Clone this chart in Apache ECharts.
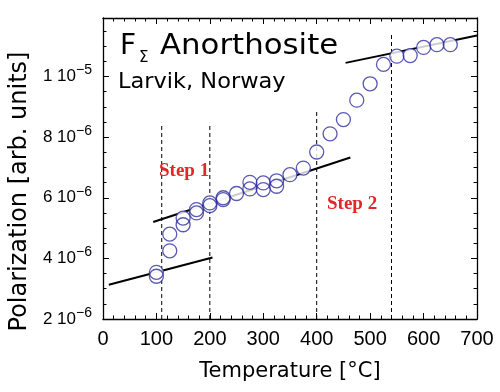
<!DOCTYPE html>
<html><head><meta charset="utf-8">
<script src="https://cdn.jsdelivr.net/npm/echarts@6/dist/echarts.min.js"></script>
<style>html,body{margin:0;padding:0;background:#fff}#c{width:500px;height:392px}</style>
</head><body><div id="c"></div>
<script>
// Temperature (°C) of each measured point
const temperature = [100,100,125,125,150,150,175,175,200,200,225,225,250,275,275,300,300,325,325,350,375,400,425,450,475,500,525,550,575,600,625,650];
// Polarization in units of 1e-6 (arb. units)
const polarization = [3.54,3.41,4.25,4.80,5.11,5.33,5.50,5.61,5.74,5.83,5.94,6.00,6.14,6.51,6.29,6.49,6.27,6.56,6.38,6.76,6.98,7.51,8.11,8.58,9.22,9.76,10.40,10.67,10.69,10.96,11.05,11.05];

// Straight fit lines (endpoints, temperature / polarization 1e-6)
const fitA_T = [11, 205],  fitA_P = [3.13, 4.03];
const fitB_T = [94, 463],  fitB_P = [5.20, 7.33];
const fitC_T = [454, 700], fitC_P = [10.45, 11.35];

// Dashed step markers
const stepT   = [110, 200, 400, 540];
const stepTop = [8.47, 8.47, 8.85, 11.40];
const stepBottom = 2;

// Axis ticks
const xMin = 0, xMax = 700, xStep = 100;
const yMin = 2, yMax = 11.93, yStep = 2;
const yTickLabels = {2:['2 10','\u22126'],4:['4 10','\u22126'],6:['6 10','\u22126'],8:['8 10','\u22126'],10:['1 10','\u22125']};

const titleMain = 'Anorthosite', titleF = 'F', titleSub = '\u03A3', subtitle = 'Larvik, Norway';
const stepLabels = ['Step 1', 'Step 2'];

const pts = temperature.map((t, i) => [t, polarization[i]]);
const pair = (T, P) => T.map((t, i) => [t, P[i]]);

const black = '#000';
const sans = 'DejaVu Sans';
const tickFont = 'Liberation Sans';

const series = [];
[[fitA_T, fitA_P], [fitB_T, fitB_P], [fitC_T, fitC_P]].forEach(([T, P]) => {
  series.push({type:'line', data: pair(T, P), symbol:'none', z:2, silent:true,
    lineStyle:{color:black, width:2}});
});
stepT.forEach((t, i) => {
  series.push({type:'line', data: [[t, stepBottom], [t, stepTop[i]]], symbol:'none', z:2, silent:true,
    lineStyle:{color:black, width:1, type:[4,3]}});
});
series.push({type:'scatter', data: pts, symbol:'circle', symbolSize:14, z:3, silent:true,
  itemStyle:{color:'#ffffff', borderWidth:0}});
series.push({type:'scatter', data: pts, symbol:'circle', symbolSize:14, z:4, silent:true,
  itemStyle:{color:'rgba(0,0,0,0)', borderColor:'#3030a0', borderWidth:1.3}});

const axisCommon = {
  axisLine:{show:true, onZero:false, lineStyle:{color:black, width:1.3}},
  axisTick:{show:true, inside:true, length:6, lineStyle:{color:black, width:1}},
  splitLine:{show:false}
};

const chart = echarts.init(document.getElementById('c'), null, {renderer:'canvas'});
chart.setOption({
  animation:false,
  backgroundColor:'#fff',
  grid:{left:102, right:23, top:18, bottom:73},
  xAxis:[
    Object.assign({type:'value', min:xMin, max:xMax, interval:xStep, position:'bottom',
      axisLabel:{show:true, margin:10, fontSize:20, fontFamily:tickFont, color:black},
      name:'Temperature [\u00B0C]', nameLocation:'middle', nameGap:42,
      nameTextStyle:{fontSize:21, fontFamily:sans, color:black}}, axisCommon,
      {minorTick:{show:true, splitNumber:5, length:3.5, lineStyle:{color:black, width:1}}}),
    Object.assign({type:'value', min:xMin, max:xMax, interval:xStep, position:'top',
      axisLabel:{show:false}}, axisCommon,
      {minorTick:{show:true, splitNumber:5, length:3.5, lineStyle:{color:black, width:1}}})
  ],
  yAxis:[
    Object.assign({type:'value', min:yMin, max:yMax, interval:yStep, position:'left',
      axisLabel:{show:true, margin:11, showMaxLabel:false,
        formatter: v => { const l = yTickLabels[Math.round(v*1000)/1000]; return l ? '{b|' + l[0] + '}{s|' + l[1] + '}' : ''; },
        rich:{
          b:{fontSize:17, fontFamily:tickFont, color:black, lineHeight:26, verticalAlign:'middle'},
          s:{fontSize:14, fontFamily:tickFont, color:black, lineHeight:12, verticalAlign:'top'}
        }},
      name:'Polarization [arb. units]', nameLocation:'middle', nameGap:67,
      nameTextStyle:{fontSize:24, fontFamily:sans, color:black, padding:[0,46,0,0]}}, axisCommon,
      {minorTick:{show:true, splitNumber:4, length:3.5, lineStyle:{color:black, width:1}}}),
    Object.assign({type:'value', min:yMin, max:yMax, interval:yStep, position:'right',
      axisLabel:{show:false}}, axisCommon,
      {minorTick:{show:true, splitNumber:4, length:3.5, lineStyle:{color:black, width:1}}})
  ],
  series: series,
  graphic:[
    {type:'text', x:120, y:47, z:10, style:{text:titleF, fontSize:28, fontFamily:sans, fill:black, verticalAlign:'middle'}},
    {type:'text', x:139, y:58, z:10, style:{text:titleSub, fontSize:15, fontFamily:sans, fill:black, verticalAlign:'middle'}},
    {type:'text', x:160, y:47, z:10, scaleX:1.1, style:{text:titleMain, fontSize:28, fontFamily:sans, fill:black, verticalAlign:'middle'}},
    {type:'text', x:118, y:83, z:10, scaleX:1.07, style:{text:subtitle, fontSize:21, fontFamily:sans, fill:black, verticalAlign:'middle'}},
    {type:'text', x:159, y:171, z:10, style:{text:stepLabels[0], fontSize:19, fontWeight:'bold', fontFamily:'Liberation Serif', fill:'#e3262a', verticalAlign:'middle'}},
    {type:'text', x:327, y:204, z:10, style:{text:stepLabels[1], fontSize:19, fontWeight:'bold', fontFamily:'Liberation Serif', fill:'#e3262a', verticalAlign:'middle'}}
  ]
});
</script></body></html>
